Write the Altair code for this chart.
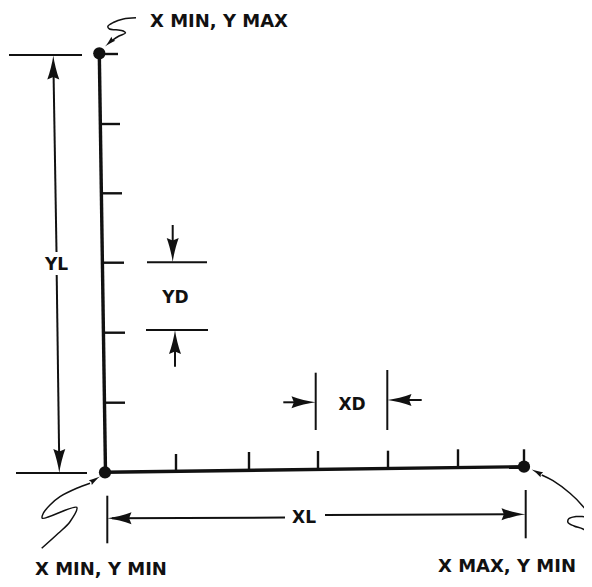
import altair as alt
import pandas as pd

# ---- picture coordinates (x to the right, y downward) ----
# main axes (heavy lines)
axis_x1 = [99.3, 105.0]
axis_y1 = [53.3, 472.3]
axis_x2 = [105.5, 524.0]
axis_y2 = [472.5, 466.7]

# tick marks on the Y axis (pointing right)
ytick_y = [54.0, 124.0, 193.3, 262.7, 332.7, 402.7]
ytick_x0 = [100.0, 101.0, 102.0, 103.0, 104.0, 105.0]
ytick_x1 = [118.0, 120.0, 122.0, 124.0, 125.0, 125.0]

# tick marks on the X axis (pointing up)
xtick_x = [176.0, 249.0, 318.0, 388.0, 458.0, 524.0]
xtick_y0 = [471.0, 470.0, 469.5, 468.5, 468.0, 467.0]
xtick_y1 = [454.0, 452.0, 451.0, 450.7, 449.3, 449.3]

# corner dots
dot_x = [99.3, 105.0, 524.0]
dot_y = [53.3, 472.3, 466.7]

# extension lines and dimension lines (thin)
dim_x1 = [9, 16, 147, 146, 315.7, 387.3, 107.3, 525.7,
          53.5, 56.7, 172.7, 175.0, 283.3, 421.7, 112.0, 325.0]
dim_y1 = [55, 473, 262.3, 330, 372.7, 370, 495.7, 490,
          70, 275, 225, 345, 402.3, 400, 518.3, 515.0]
dim_x2 = [82, 87, 207, 208, 315.7, 387.3, 107.3, 525.7,
          56.5, 59.2, 172.7, 175.0, 300.0, 405.0, 285.0, 510.0]
dim_y2 = [55, 473, 262.3, 330, 430, 430, 543.3, 538.3,
          252, 460, 250, 366.7, 402.3, 400, 517.6, 514.3]

# dimension arrowheads: tip position and direction (0 = up, clockwise)
arr_x = [53.3, 59.3, 172.7, 175.0, 315.5, 387.5, 107.5, 525.5]
arr_y = [55.5, 473.0, 262.0, 330.0, 402.3, 400.0, 518.3, 514.3]
arr_angle = [0, 180, 180, 0, 90, 270, 270, 90]

# hand-drawn leader lines
lead_top_x = [136.0, 123.3, 113.3, 107.8, 109.5, 116.0, 123.3, 125.5, 119.0, 112.0]
lead_top_y = [17.8, 19.0, 22.5, 26.5, 29.0, 29.8, 31.0, 33.0, 36.0, 40.5]
lead_bl_x = [41.7, 58.3, 70.0, 76.7, 42.3, 43.3, 50.0, 60.0, 76.7, 90.0]
lead_bl_y = [548.3, 533.3, 521.7, 507.3, 518.3, 513.3, 505.0, 496.7, 488.3, 483.3]
lead_br_x = [592.0, 583.0, 574.0, 568.0, 569.0, 576.0, 589.5, 581.7, 570.0, 553.0, 541.7]
lead_br_y = [535.0, 529.0, 526.0, 522.5, 518.5, 516.5, 516.0, 505.0, 493.3, 480.7, 475.0]

# leader arrowheads
lead_arr_x = [105.0, 100.0, 531.7]
lead_arr_y = [46.5, 476.5, 469.5]
lead_arr_angle = [227, 58, 297]

# labels
big_text = ["X MIN, Y MAX", "X MIN, Y MIN", "X MAX, Y MIN"]
big_x = [150.0, 35.0, 438.0]
big_y = [27.0, 575.0, 571.5]
small_text = ["YL", "YD", "XD", "XL"]
small_x = [56.5, 175.5, 352.0, 304.0]
small_y = [270.0, 303.0, 409.5, 523.0]

# ---- tables ----
axes_df = pd.DataFrame({"x": axis_x1, "y": axis_y1, "x2": axis_x2, "y2": axis_y2})
ytk_df = pd.DataFrame({"x": ytick_x0, "y": ytick_y, "x2": ytick_x1, "y2": ytick_y})
xtk_df = pd.DataFrame({"x": xtick_x, "y": xtick_y0, "x2": xtick_x, "y2": xtick_y1})
ticks_df = pd.concat([ytk_df, xtk_df], ignore_index=True)
dims_df = pd.DataFrame({"x": dim_x1, "y": dim_y1, "x2": dim_x2, "y2": dim_y2})
dots_df = pd.DataFrame({"x": dot_x, "y": dot_y})
arr_df = pd.DataFrame({"x": arr_x, "y": arr_y, "angle": arr_angle})
larr_df = pd.DataFrame({"x": lead_arr_x, "y": lead_arr_y, "angle": lead_arr_angle})

rows = []
for name, xs_, ys_ in [("top", lead_top_x, lead_top_y),
                       ("bl", lead_bl_x, lead_bl_y),
                       ("br", lead_br_x, lead_br_y)]:
    for i, (a, b) in enumerate(zip(xs_, ys_)):
        rows.append({"leader": name, "seq": i, "x": a, "y": b})
lead_df = pd.DataFrame(rows)

big_df = pd.DataFrame({"label": big_text, "x": big_x, "y": big_y})
small_df = pd.DataFrame({"label": small_text, "x": small_x, "y": small_y})

W, H = 576, 571
xs = alt.Scale(domain=[8, 8 + W], nice=False, zero=False)
ys = alt.Scale(domain=[8, 8 + H], nice=False, zero=False, reverse=True)

def X(f="x"):
    return alt.X(f, type="quantitative", scale=xs, axis=None)

def Y(f="y"):
    return alt.Y(f, type="quantitative", scale=ys, axis=None)

INK = "#111111"
ARROW = "M0,0 C0.08,0.6 0.28,1.4 0.5,2 L0,1.8 L-0.5,2 C-0.28,1.4 -0.08,0.6 0,0 Z"

def rules(df, w):
    return alt.Chart(df).mark_rule(color=INK, strokeWidth=w, strokeCap="butt").encode(
        x=X(), y=Y(), x2=alt.X2("x2"), y2=alt.Y2("y2"))

axes = rules(axes_df, 3.4)
ticks = rules(ticks_df, 2.4)
dims = rules(dims_df, 2.0)

dots = alt.Chart(dots_df).mark_circle(size=150, color=INK, opacity=1).encode(x=X(), y=Y())

arrows = alt.Chart(arr_df).mark_point(
    shape=ARROW, filled=True, size=576, color=INK, opacity=1, strokeWidth=0
).encode(x=X(), y=Y(), angle=alt.Angle("angle:Q", scale=None))

lead_arrows = alt.Chart(larr_df).mark_point(
    shape=ARROW, filled=True, size=130, color=INK, opacity=1, strokeWidth=0
).encode(x=X(), y=Y(), angle=alt.Angle("angle:Q", scale=None))

leaders = alt.Chart(lead_df).mark_line(
    color=INK, strokeWidth=1.5, interpolate="catmull-rom"
).encode(x=X(), y=Y(), detail="leader:N", order="seq:Q")

big_labels = alt.Chart(big_df).mark_text(
    font="DejaVu Sans", fontWeight="bold", fontSize=18, align="left",
    baseline="alphabetic", color=INK
).encode(x=X(), y=Y(), text="label:N")

small_labels = alt.Chart(small_df).mark_text(
    font="DejaVu Sans", fontWeight="bold", fontSize=17, align="center",
    baseline="alphabetic", color=INK
).encode(x=X(), y=Y(), text="label:N")

chart = alt.layer(
    dims, axes, ticks, leaders, arrows, lead_arrows, dots, big_labels, small_labels
).properties(
    width=W, height=H, padding=0, autosize="none", background="white"
).configure_view(strokeWidth=0)

chart.save("out.html", embed_options={"renderer": "svg", "actions": False})
